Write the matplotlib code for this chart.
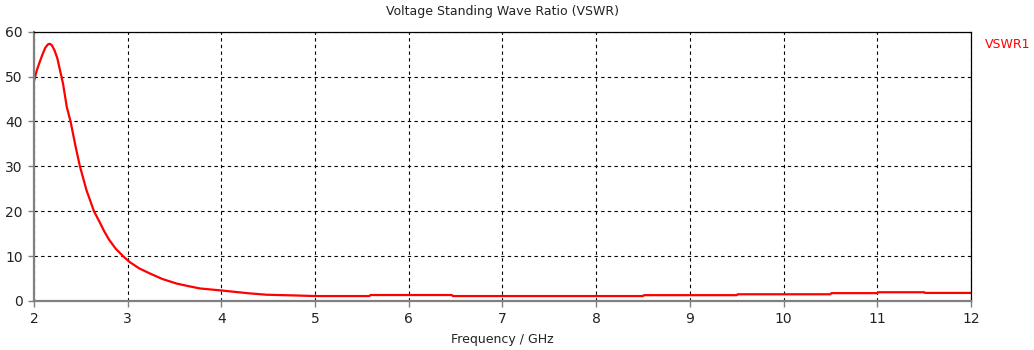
import matplotlib.pyplot as plt

# VSWR trace, frequency in GHz
freq = [2.0, 2.03, 2.06, 2.09, 2.12, 2.15, 2.17, 2.19, 2.22, 2.25, 2.27,
        2.31, 2.35, 2.39, 2.445, 2.49, 2.56, 2.64, 2.70, 2.75, 2.80, 2.87,
        2.95, 3.02, 3.12, 3.23, 3.37, 3.52, 3.65, 3.77, 4.02, 4.30,
        4.48, 4.76, 5.0, 5.58, 5.59, 6.46, 6.47, 7.5, 8.5, 8.51, 9.5, 9.51,
        10.5, 10.51, 11.0, 11.01, 11.5, 11.51, 12.0]
vswr = [49.0, 51.4, 53.2, 54.9, 56.4, 57.2, 57.3, 57.0, 55.8, 54.0, 52.1,
        48.4, 43.2, 40.0, 34.3, 30.0, 24.7, 20.0, 17.6, 15.5, 13.7, 11.7,
        10.0, 8.7, 7.3, 6.2, 4.9, 3.9, 3.3, 2.8, 2.3, 1.7,
        1.4, 1.25, 1.1, 1.1, 1.33, 1.33, 1.1, 1.1, 1.1, 1.3, 1.3, 1.5,
        1.5, 1.75, 1.75, 1.95, 1.95, 1.8, 1.8]

x_ticks = list(range(2, 13))
y_ticks = [0, 10, 20, 30, 40, 50, 60]

fig = plt.figure(figsize=(10.34, 3.5), dpi=100)
ax = fig.add_axes([34 / 1034, 49 / 350, 937 / 1034, 269.3 / 350])

ax.plot(freq, vswr, color='#ff0000', linewidth=1.6)

ax.set_xlim(2, 12)
ax.set_ylim(0, 60)
ax.set_xticks(x_ticks)
ax.set_yticks(y_ticks)
ax.grid(True, color='black', linestyle=(0, (3, 3)), linewidth=0.8)

for side in ('left', 'bottom'):
    ax.spines[side].set_color('#808080')
    ax.spines[side].set_linewidth(1.6)
for side in ('top', 'right'):
    ax.spines[side].set_color('black')
    ax.spines[side].set_linewidth(0.9)

ax.tick_params(direction='out', length=4, width=1, color='#808080',
               labelsize=10, labelcolor='#222222', pad=4)

ax.set_title('Voltage Standing Wave Ratio (VSWR)', fontsize=9, color='#222222', pad=12)
ax.set_xlabel('Frequency / GHz', fontsize=9, color='#222222', labelpad=5)

fig.text(985 / 1034, 1 - 45 / 350, 'VSWR1', color='#ff0000', fontsize=9,
         ha='left', va='center')

fig.savefig('out.png', dpi=100)
